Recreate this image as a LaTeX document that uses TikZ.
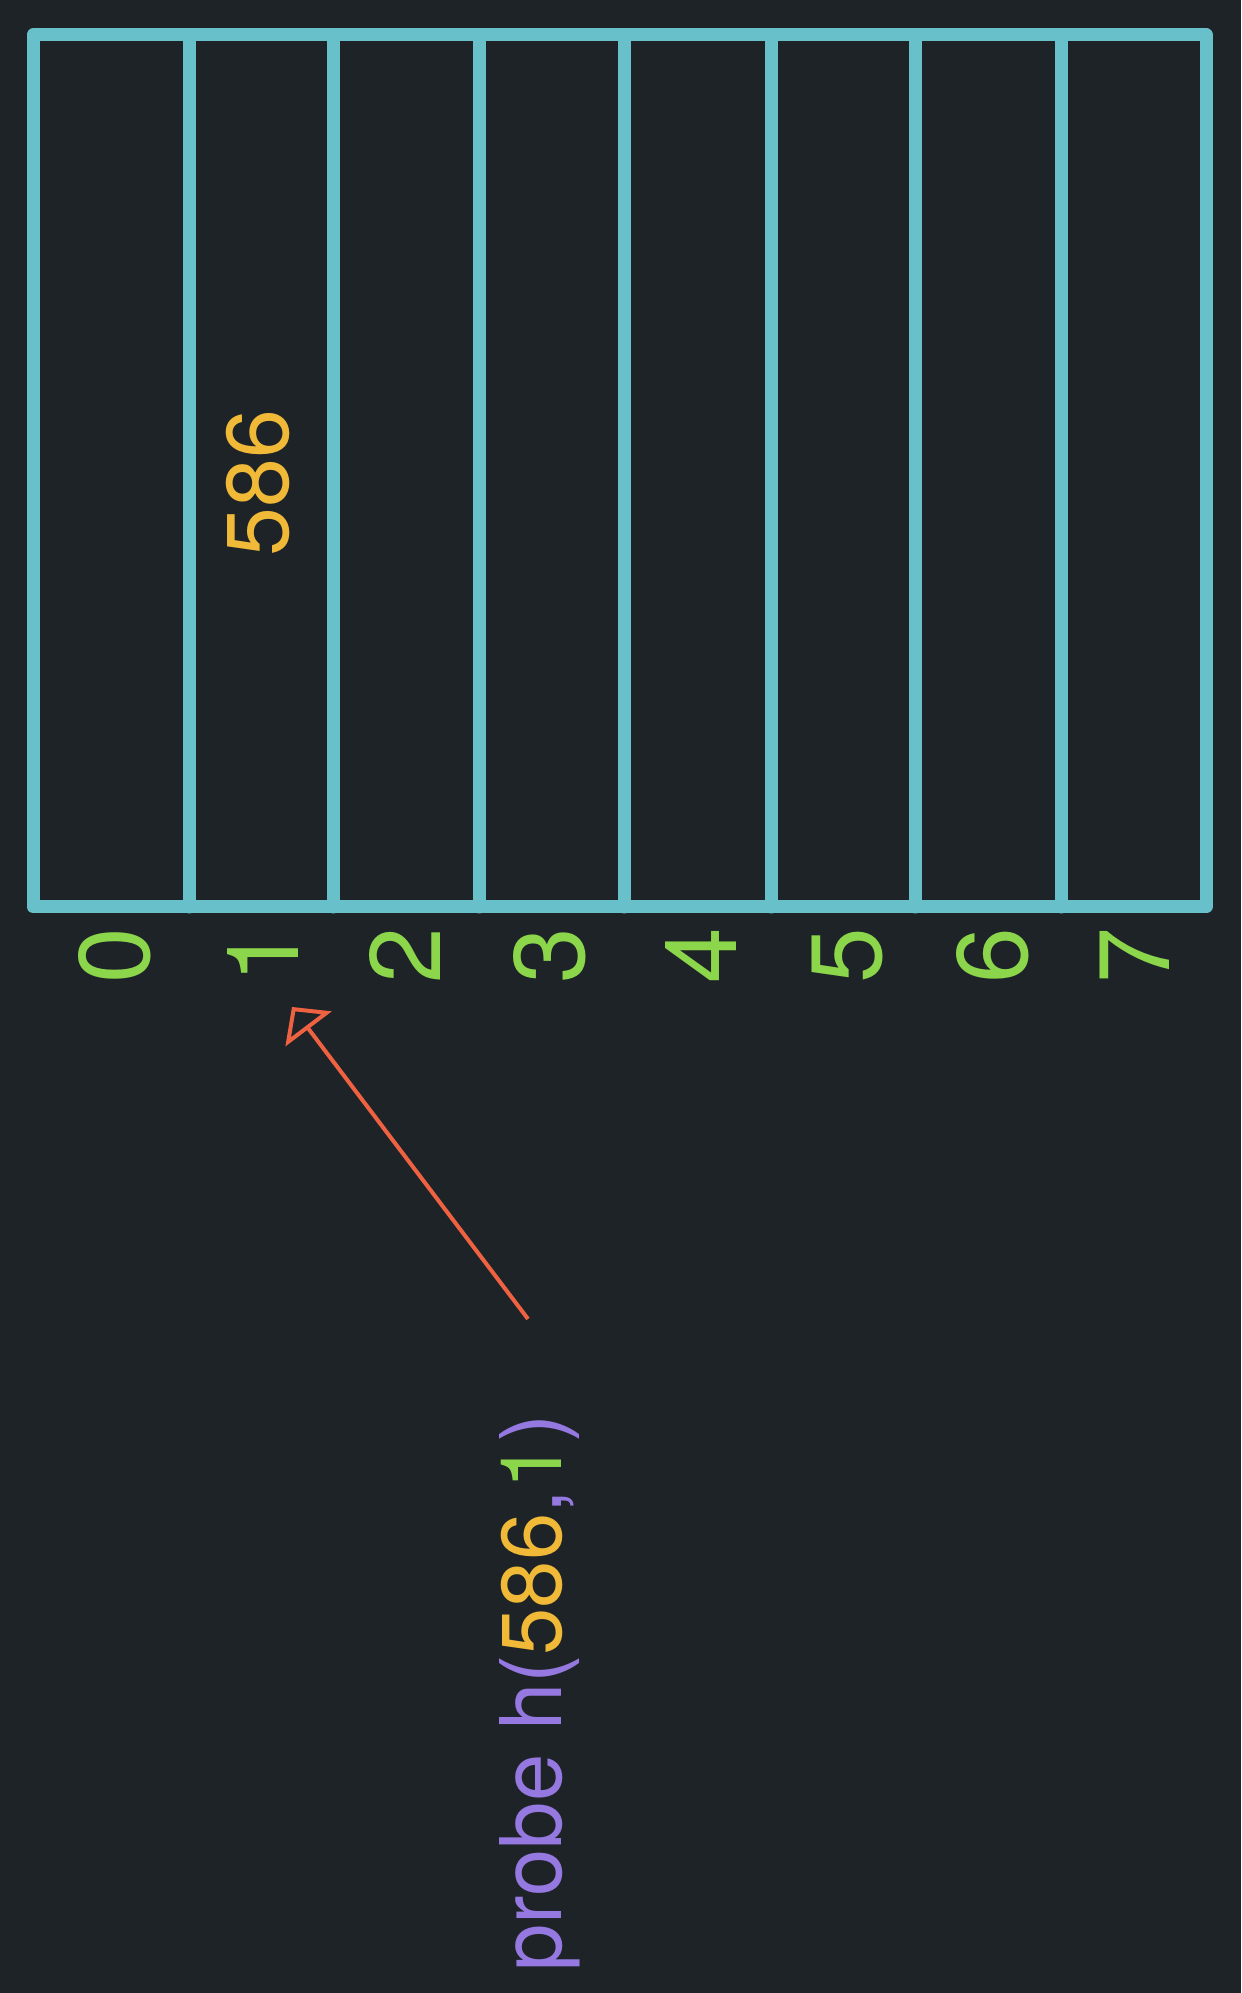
\documentclass[tikz,border=0pt]{standalone}
\usepackage{fontspec}
\setmainfont{TeX Gyre Heros}
\usetikzlibrary{arrows.meta}
\definecolor{fondo}{RGB}{30,35,40}
\definecolor{celda}{RGB}{104,192,202}
\definecolor{verde}{RGB}{140,214,76}
\definecolor{amarillo}{RGB}{240,186,56}
\definecolor{morado}{RGB}{150,120,225}
\definecolor{flecha}{RGB}{238,98,66}

\begin{document}
\begin{tikzpicture}[
    tabla/.style={draw=celda,line width=0.26cm,line join=round,line cap=round},
    indice/.style={text=verde,rotate=90,font=\fontsize{57}{60}\selectfont},
    ]
    \fill[fondo] (0,0) rectangle (24.82,39.86);

%tabla

    \draw[tabla] (0.66,21.72) rectangle (24.12,39.16);
    \foreach \x in {3.78,6.66,9.58,12.48,15.42,18.30,21.22}
        \draw[tabla] (\x,21.72) -- (\x,39.16);

    %indices
    \foreach \c/\i in {2.30/0,5.25/1,8.10/2,11.0/3,14.02/4,16.95/5,19.86/6,22.70/7}
        \node[indice] (i\i) at (\c,20.74) {\i};

    %valor
    \node[rotate=90,text=amarillo,font=\fontsize{50}{54}\selectfont] (val) at (5.16,30.2) {586};

    %sonda
    \node[rotate=90,anchor=base west,inner sep=0pt,text=morado,font=\fontsize{48.4}{52}\selectfont] (probe) at (11.22,0.42)
        {probe h(\textcolor{amarillo}{586},\textcolor{verde}{1})};
    \coordinate (cola) at (10.56,13.48);
    \coordinate (punta) at (5.84,19.72);
    \draw[-{Triangle[open,length=0.55cm,width=1.15cm]},flecha,line width=0.08cm] (cola) -- (punta);

  \end{tikzpicture}
\end{document}
